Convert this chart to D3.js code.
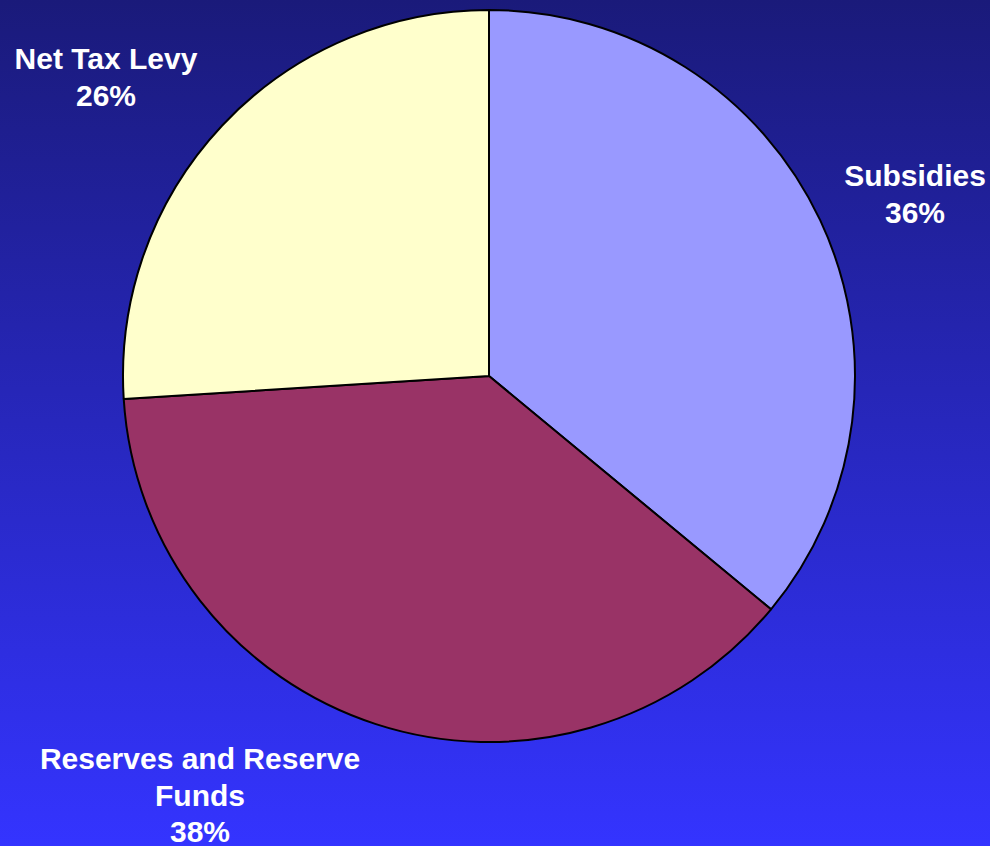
<!DOCTYPE html>
<html>
<head>
<meta charset="utf-8">
<script src="https://cdn.jsdelivr.net/npm/d3@7"></script>
<style>
html,body{margin:0;padding:0;overflow:hidden;}
svg{display:block;}
</style>
</head>
<body>
<script>
const categories = ["Subsidies", "Reserves and Reserve Funds", "Net Tax Levy"];
const values = [36, 38, 26];
const colors = ["#9999ff", "#993366", "#ffffcc"];
const labelLines = [["Subsidies", "36%"], ["Reserves and Reserve", "Funds", "38%"], ["Net Tax Levy", "26%"]];
const labelPos = [[915, 186], [200, 769], [106, 69]];

const W = 990, H = 846;
const svg = d3.select("body").append("svg").attr("width", W).attr("height", H);
const defs = svg.append("defs");
const grad = defs.append("linearGradient").attr("id", "bg").attr("x1", 0).attr("y1", 0).attr("x2", 0).attr("y2", 1);
grad.append("stop").attr("offset", "0%").attr("stop-color", "#1a1a7a");
grad.append("stop").attr("offset", "100%").attr("stop-color", "#3434ff");
svg.append("rect").attr("width", W).attr("height", H).attr("fill", "url(#bg)");

const cx = 489, cy = 376, r = 366;
const pie = d3.pie().sort(null).value(d => d)(values);
const arc = d3.arc().innerRadius(0).outerRadius(r);
const g = svg.append("g").attr("transform", `translate(${cx},${cy})`);
g.selectAll("path").data(pie).enter().append("path")
  .attr("d", arc)
  .attr("fill", (d, i) => colors[i])
  .attr("stroke", "#000")
  .attr("stroke-width", 2)
  .attr("stroke-linejoin", "round");

const lg = svg.append("g");
labelLines.forEach((lines, i) => {
  const t = lg.append("text")
    .attr("x", labelPos[i][0]).attr("y", labelPos[i][1])
    .attr("text-anchor", "middle")
    .attr("fill", "#fff")
    .attr("font-family", "Liberation Sans, Arial, sans-serif")
    .attr("font-weight", "bold")
    .attr("font-size", 30);
  lines.forEach((ln, j) => {
    t.append("tspan").attr("x", labelPos[i][0]).attr("dy", j === 0 ? 0 : 36.5).text(ln);
  });
});
</script>
</body>
</html>
